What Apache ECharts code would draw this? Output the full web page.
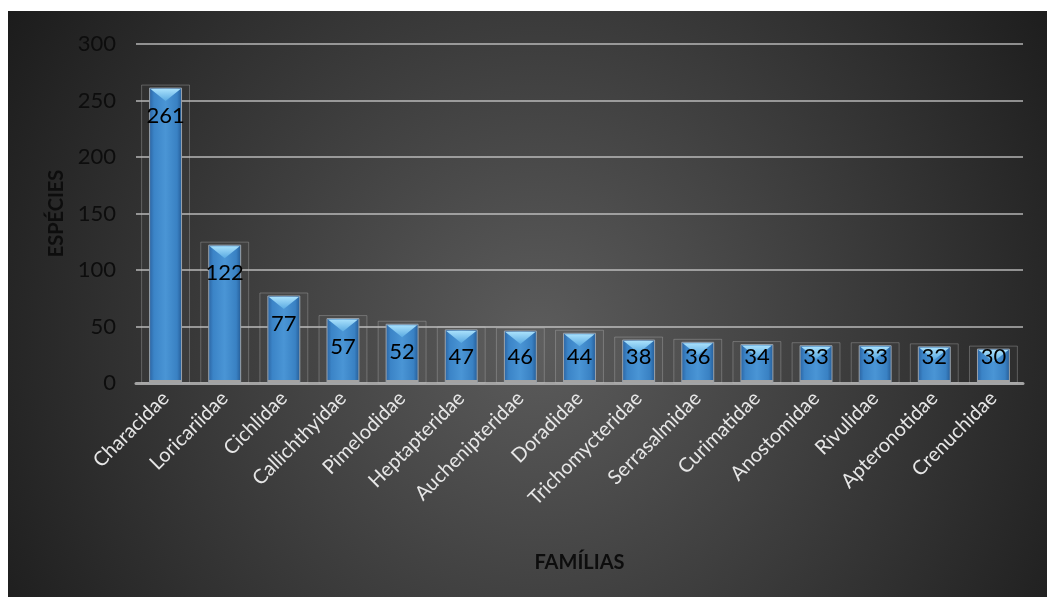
<!DOCTYPE html>
<html>
<head>
<meta charset="utf-8">
<script src="https://cdn.jsdelivr.net/npm/echarts@6/dist/echarts.min.js"></script>
<style>
  html, body { margin: 0; padding: 0; background: #ffffff; }
  #chart { width: 1047px; height: 597px; }
</style>
</head>
<body>
<div id="chart"></div>
<script>
// Famílias de peixes e número de espécies
const familias = ['Characidae', 'Loricariidae', 'Cichlidae', 'Callichthyidae', 'Pimelodidae',
  'Heptapteridae', 'Auchenipteridae', 'Doradidae', 'Trichomycteridae', 'Serrasalmidae',
  'Curimatidae', 'Anostomidae', 'Rivulidae', 'Apteronotidae', 'Crenuchidae'];
const especies = [261, 122, 77, 57, 52, 47, 46, 44, 38, 36, 34, 33, 33, 32, 30];
const yTicks = [0, 50, 100, 150, 200, 250, 300];

const FONT = 'Lato, "Open Sans", "DejaVu Sans", sans-serif';

const chart = echarts.init(document.getElementById('chart'));

// bar with a faint outer frame, bevelled top and value label
function renderBar(params, api) {
  const i = api.value(0);
  const v = api.value(1);
  const top = api.coord([i, v]);
  const base = api.coord([i, 0]);
  const band = api.size([1, 0])[0];
  const cx = top[0];
  const bw = band * 0.54;
  const fw = band * 0.81;
  const x0 = cx - bw / 2;
  const x1 = cx + bw / 2;
  const yTop = top[1];
  const yBase = base[1];
  const labelY = Math.min(yTop + 28, yBase - 26);
  return {
    type: 'group',
    children: [
      {
        type: 'rect',
        shape: { x: cx - fw / 2, y: yTop - 3, width: fw, height: yBase - yTop + 3 },
        style: { fill: 'rgba(255,255,255,0.025)', stroke: 'rgba(190,190,190,0.35)', lineWidth: 1 }
      },
      {
        type: 'rect',
        shape: { x: x0, y: yTop, width: bw, height: yBase - yTop },
        style: {
          fill: new echarts.graphic.LinearGradient(0, 0, 1, 0, [
            { offset: 0, color: '#2a62a0' },
            { offset: 0.15, color: '#3b84c7' },
            { offset: 0.5, color: '#4a95d5' },
            { offset: 0.85, color: '#3981c3' },
            { offset: 1, color: '#245a94' }
          ]),
          stroke: '#9ba3ab',
          lineWidth: 1
        }
      },
      {
        type: 'polygon',
        shape: { points: [[x0 + 1, yTop + 1], [x1 - 1, yTop + 1], [cx, yTop + 13]] },
        style: {
          fill: new echarts.graphic.LinearGradient(0, 0, 0, 1, [
            { offset: 0, color: '#a8e0fb' },
            { offset: 1, color: '#5aaae2' }
          ])
        }
      },
      {
        type: 'rect',
        shape: { x: x0, y: yBase - 3, width: bw, height: 3 },
        style: { fill: '#a3a3a3' }
      },
      {
        type: 'text',
        style: {
          x: cx, y: labelY,
          text: String(v),
          fill: '#000000',
          font: '22px ' + FONT,
          align: 'center',
          verticalAlign: 'middle'
        }
      }
    ]
  };
}

chart.setOption({
  backgroundColor: '#ffffff',
  animation: false,
  graphic: [{
    type: 'rect',
    z: -10,
    silent: true,
    shape: { x: 8, y: 11, width: 1039, height: 586 },
    style: {
      fill: new echarts.graphic.RadialGradient(0.51, 0.56, 1.06, [
        { offset: 0, color: '#5c5c5c' },
        { offset: 1, color: '#1c1c1c' }
      ])
    }
  }],
  grid: { left: 136, right: 24, top: 44, bottom: 214 },
  xAxis: {
    type: 'category',
    data: familias,
    name: 'FAMÍLIAS',
    nameLocation: 'middle',
    nameGap: 170,
    nameTextStyle: { color: '#0d0d0d', fontSize: 20, fontWeight: 'bold', fontFamily: FONT },
    axisLine: { lineStyle: { color: '#a3a3a3', width: 3 } },
    axisTick: { show: false },
    axisLabel: {
      rotate: 45,
      interval: 0,
      margin: 12,
      color: '#e6e6e6',
      fontSize: 20,
      fontFamily: FONT
    }
  },
  yAxis: {
    type: 'value',
    min: yTicks[0],
    max: yTicks[yTicks.length - 1],
    interval: yTicks[1] - yTicks[0],
    name: 'ESPÉCIES',
    nameLocation: 'middle',
    nameGap: 66,
    nameRotate: 90,
    nameTextStyle: { color: '#0d0d0d', fontSize: 20, fontWeight: 'bold', fontFamily: FONT },
    axisLine: { show: false },
    axisTick: { show: false },
    axisLabel: { color: '#0d0d0d', fontSize: 22, margin: 20, fontFamily: FONT },
    splitLine: { lineStyle: { color: 'rgba(215,215,215,0.8)', width: 1.5 } }
  },
  series: [{
    type: 'custom',
    renderItem: renderBar,
    encode: { x: 0, y: 1 },
    data: especies.map((v, i) => [i, v]),
    z: 3
  }]
});
</script>
</body>
</html>
